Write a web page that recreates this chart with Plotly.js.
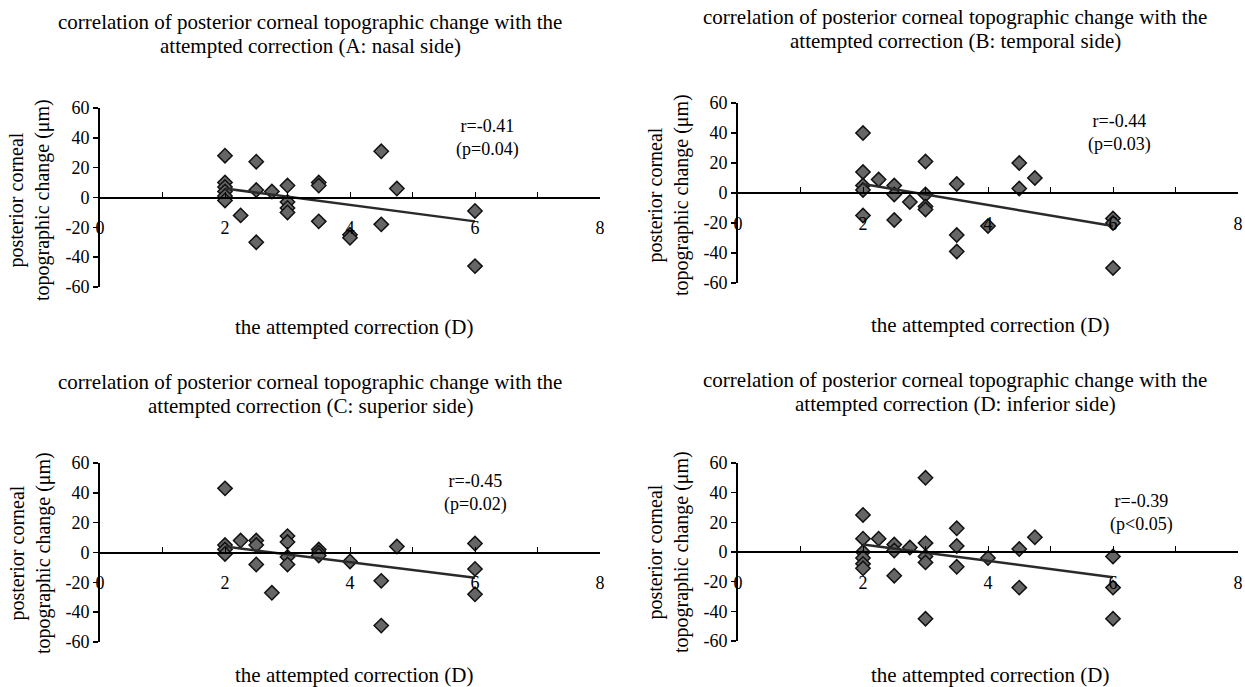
<!DOCTYPE html>
<html>
<head>
<meta charset="utf-8">
<script src="https://cdn.plot.ly/plotly-3.0.1.min.js"></script>
<style>html,body{margin:0;padding:0;background:#fff;}#chart{width:1245px;height:687px;}</style>
</head>
<body>
<div id="chart"></div>
<script>
// ---- data ----
const titleLine1 = "correlation of posterior corneal topographic change with the";
const titleLine2 = [
  "attempted correction (A: nasal side)",
  "attempted correction (B: temporal side)",
  "attempted correction (C: superior side)",
  "attempted correction (D: inferior side)"
];
const xTitle = "the attempted correction (D)";
const yTitle = "posterior corneal<br>topographic change (μm)";
const statLabels = ["r=-0.41<br>(p=0.04)", "r=-0.44<br>(p=0.03)", "r=-0.45<br>(p=0.02)", "r=-0.39<br>(p<0.05)"];
const statX = [6.2, 6.1, 6.0, 6.45];
const statY = [40, 40, 40, 26];
const xTickVals = [0, 2, 4, 6, 8];
const xTickText = ["0", "2", "4", "6", "8"];
const yTickVals = [-60, -40, -20, 0, 20, 40, 60];
const yTickText = ["-60", "-40", "-20", "0", "20", "40", "60"];

const nasalX = [2, 2, 2, 2, 2, 2, 2.25, 2.5, 2.5, 2.5, 2.75, 3, 3, 3, 3, 3.5, 3.5, 3.5, 4, 4, 4.5, 4.5, 4.75, 6, 6];
const nasalY = [28, 10, 7, 4, 1, -2, -12, 24, 5, -30, 4, 8, -3, -7, -10, 10, 8, -16, -25, -27, 31, -18, 6, -9, -46];

const temporalX = [2, 2, 2, 2, 2, 2.25, 2.5, 2.5, 2.5, 2.75, 3, 3, 3, 3, 3.5, 3.5, 3.5, 4, 4.5, 4.5, 4.75, 6, 6, 6];
const temporalY = [40, 14, 5, 2, -15, 9, 5, -1, -18, -6, 21, -1, -9, -11, 6, -28, -39, -22, 20, 3, 10, -17, -20, -50];

const superiorX = [2, 2, 2, 2, 2.25, 2.5, 2.5, 2.5, 2.75, 3, 3, 3, 3, 3.5, 3.5, 3.5, 4, 4.5, 4.5, 4.75, 6, 6, 6];
const superiorY = [43, 5, 2, -1, 8, 8, 5, -8, -27, 11, 7, -3, -8, 2, 0, -2, -6, -19, -49, 4, 6, -11, -28];

const inferiorX = [2, 2, 2, 2, 2, 2, 2.25, 2.5, 2.5, 2.5, 2.75, 3, 3, 3, 3, 3, 3.5, 3.5, 3.5, 4, 4.5, 4.5, 4.75, 6, 6, 6];
const inferiorY = [25, 9, 0, -4, -8, -11, 9, 5, 1, -16, 3, 50, 6, -3, -7, -45, 16, 4, -10, -4, 2, -24, 10, -3, -24, -45];

// trend-line end points
const trendX = [2, 6];
const nasalTrendY = [6, -16];
const temporalTrendY = [6, -22];
const superiorTrendY = [4, -17];
const inferiorTrendY = [5, -17];

// ---- layout geometry ----
const W = 1245, H = 687;
const px = v => v / W, py = v => 1 - v / H;
const panels = [
  {xs: nasalX, ys: nasalY, ty: nasalTrendY, xd: [px(100), px(600)], yd: [py(287), py(108)], tx: 310, t1: 22, t2: 46, xtX: 354, xtY: 327, ytX: 30, ytY: 200},
  {xs: temporalX, ys: temporalY, ty: temporalTrendY, xd: [px(738), px(1238)], yd: [py(283), py(103)], tx: 955, t1: 17, t2: 41, xtX: 990, xtY: 325, ytX: 668, ytY: 195},
  {xs: superiorX, ys: superiorY, ty: superiorTrendY, xd: [px(100), px(600)], yd: [py(642), py(463)], tx: 310, t1: 382, t2: 406, xtX: 354, xtY: 675, ytX: 30, ytY: 553},
  {xs: inferiorX, ys: inferiorY, ty: inferiorTrendY, xd: [px(738), px(1238)], yd: [py(641), py(463)], tx: 955, t1: 380, t2: 404, xtX: 990, xtY: 675, ytX: 668, ytY: 552}
];

const FONT = "Liberation Serif";
const traces = [];
const layout = {
  width: W, height: H,
  margin: {l: 0, r: 0, t: 0, b: 0},
  paper_bgcolor: "#fff", plot_bgcolor: "rgba(0,0,0,0)",
  showlegend: false,
  font: {family: FONT, color: "#000", size: 18},
  annotations: []
};

panels.forEach((p, i) => {
  const n = i === 0 ? "" : String(i + 1);
  const xa = "x" + n, ya = "y" + n;
  traces.push({
    type: "scatter", mode: "markers", x: p.xs, y: p.ys, xaxis: xa, yaxis: ya,
    marker: {symbol: "diamond", size: 11, color: "#666", line: {color: "#111", width: 1.5}},
    cliponaxis: false, hoverinfo: "x+y"
  });
  traces.push({
    type: "scatter", mode: "lines", x: trendX, y: p.ty, xaxis: xa, yaxis: ya,
    line: {color: "#2a2a2a", width: 2.5}, cliponaxis: false, hoverinfo: "skip"
  });
  layout["xaxis" + n] = {
    domain: p.xd, range: [0, 8], anchor: "free", position: (p.yd[0] + p.yd[1]) / 2,
    showgrid: false, zeroline: false, showline: true, linecolor: "#000", linewidth: 2,
    tickmode: "array", tickvals: xTickVals, ticktext: xTickText,
    ticks: "inside", ticklen: 5, tickcolor: "#000", tickwidth: 1,
    minor: {dtick: 1, tick0: 0, ticks: "inside", ticklen: 5, tickcolor: "#000"},
    ticklabelstandoff: 14,
    tickfont: {family: FONT, size: 18, color: "#000"}, fixedrange: true
  };
  layout["yaxis" + n] = {
    domain: p.yd, range: [-60, 60], anchor: xa,
    showgrid: false, zeroline: false, showline: true, linecolor: "#000", linewidth: 2,
    tickmode: "array", tickvals: yTickVals, ticktext: yTickText,
    ticks: "outside", ticklen: 5, tickcolor: "#000", tickwidth: 1.5,
    tickfont: {family: FONT, size: 18, color: "#000"}, fixedrange: true
  };
  layout.annotations.push(
    {text: titleLine1, xref: "paper", yref: "paper", x: px(p.tx), y: py(p.t1),
     showarrow: false, xanchor: "center", yanchor: "middle", font: {family: FONT, size: 21}},
    {text: titleLine2[i], xref: "paper", yref: "paper", x: px(p.tx), y: py(p.t2),
     showarrow: false, xanchor: "center", yanchor: "middle", font: {family: FONT, size: 21}},
    {text: xTitle, xref: "paper", yref: "paper", x: px(p.xtX), y: py(p.xtY),
     showarrow: false, xanchor: "center", yanchor: "middle", font: {family: FONT, size: 21}},
    {text: yTitle, xref: "paper", yref: "paper", x: px(p.ytX), y: py(p.ytY), textangle: -90,
     showarrow: false, xanchor: "center", yanchor: "middle", font: {family: FONT, size: 20}},
    {text: statLabels[i], xref: xa, yref: ya, x: statX[i], y: statY[i],
     showarrow: false, xanchor: "center", yanchor: "middle", font: {family: FONT, size: 18}}
  );
});

Plotly.newPlot("chart", traces, layout, {staticPlot: true, displayModeBar: false});
</script>
</body>
</html>
